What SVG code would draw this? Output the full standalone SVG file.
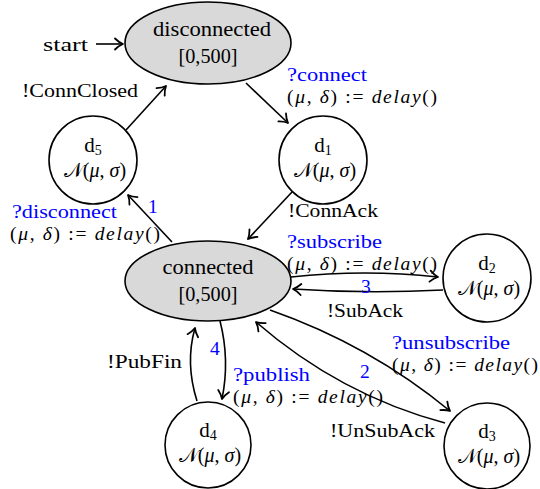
<svg xmlns="http://www.w3.org/2000/svg" width="540" height="489" viewBox="0 0 540 489">
<defs>
<marker id="ah" viewBox="-10 -7 12 14" markerWidth="12" markerHeight="14" refX="0" refY="0" orient="auto" markerUnits="userSpaceOnUse">
<path d="M-8,-5.5 C-5,-2.5 -2,-0.8 0,0 C-2,0.8 -5,2.5 -8,5.5" fill="none" stroke="#000" stroke-width="1.8" stroke-linecap="round" stroke-linejoin="round"/>
</marker>
</defs>
<style>
text{font-size:19.5px;fill:#000}
.b{fill:#0000ff}
.i{font-style:italic}
.m{text-anchor:middle}
.sub{font-size:14px}
.n{font-size:20px}
.nd{font-size:21px}
.st{fill:#d9d9d9;stroke:#000;stroke-width:1.6}
.c{fill:#fff;stroke:#000;stroke-width:1.6}
.e{fill:none;stroke:#000;stroke-width:1.6;marker-end:url(#ah)}
</style>
<g font-family="Liberation Serif, Times New Roman, serif">
<g id="connectors">
<path class="e" d="M96,44 L123,44"/>
<path class="e" d="M246,83 L288,123"/>
<path class="e" d="M126,130 L166,86"/>
<path class="e" d="M292,192 L248,239"/>
<path class="e" d="M172,242 L128,195"/>
<path class="e" d="M291,277 Q365,269 438,277"/>
<path class="e" d="M443,290 Q367,294 293,289"/>
<path class="e" d="M270,310 Q370,345 450,411"/>
<path class="e" d="M445,423 Q340,395 256,322"/>
<path class="e" d="M220,321 Q230,360 222,399"/>
<path class="e" d="M197,401 Q185,363 195,328"/>
</g>

<g id="labels">
<text x="43" y="51" textLength="45" lengthAdjust="spacingAndGlyphs">start</text>
<text x="287" y="81" class="b" textLength="80" lengthAdjust="spacingAndGlyphs">?connect</text>
<text x="287" y="103" textLength="150">(<tspan class="i">μ</tspan>, <tspan class="i">δ</tspan>) := <tspan class="i">delay</tspan>()</text>
<text x="22" y="97" textLength="116" lengthAdjust="spacingAndGlyphs">!ConnClosed</text>
<text x="288" y="217" textLength="90" lengthAdjust="spacingAndGlyphs">!ConnAck</text>
<text x="12" y="218" class="b" textLength="105" lengthAdjust="spacingAndGlyphs">?disconnect</text>
<text x="10" y="240" textLength="150">(<tspan class="i">μ</tspan>, <tspan class="i">δ</tspan>) := <tspan class="i">delay</tspan>()</text>
<text x="148" y="213" class="b">1</text>
<text x="287" y="248" class="b" textLength="95" lengthAdjust="spacingAndGlyphs">?subscribe</text>
<text x="287" y="270" textLength="150">(<tspan class="i">μ</tspan>, <tspan class="i">δ</tspan>) := <tspan class="i">delay</tspan>()</text>
<text x="361" y="293" class="b">3</text>
<text x="327" y="317" textLength="76" lengthAdjust="spacingAndGlyphs">!SubAck</text>
<text x="392" y="349" class="b" textLength="118" lengthAdjust="spacingAndGlyphs">?unsubscribe</text>
<text x="392" y="371" textLength="146">(<tspan class="i">μ</tspan>, <tspan class="i">δ</tspan>) := <tspan class="i">delay</tspan>()</text>
<text x="360" y="378" class="b">2</text>
<text x="330" y="437" textLength="105" lengthAdjust="spacingAndGlyphs">!UnSubAck</text>
<text x="210" y="355" class="b">4</text>
<text x="233" y="381" class="b" textLength="77" lengthAdjust="spacingAndGlyphs">?publish</text>
<text x="233" y="403" textLength="150">(<tspan class="i">μ</tspan>, <tspan class="i">δ</tspan>) := <tspan class="i">delay</tspan>()</text>
<text x="107" y="368" textLength="75" lengthAdjust="spacingAndGlyphs">!PubFin</text>
</g>

<g id="disconnected">
<ellipse class="st" cx="208" cy="43" rx="83" ry="41"/>
<text x="212" y="36" class="m nd" textLength="118" lengthAdjust="spacingAndGlyphs">disconnected</text>
<text x="208" y="63" class="m nd" textLength="59" lengthAdjust="spacingAndGlyphs">[0,500]</text>
</g>

<g id="connected">
<ellipse class="st" cx="208" cy="281" rx="83" ry="40"/>
<text x="208" y="274" class="m nd" textLength="91" lengthAdjust="spacingAndGlyphs">connected</text>
<text x="208" y="301" class="m nd" textLength="59" lengthAdjust="spacingAndGlyphs">[0,500]</text>
</g>

<g id="d5">
<circle class="c" cx="93" cy="160" r="44"/>
<text x="93" y="152" class="m nd">d<tspan class="sub" dy="3">5</tspan></text>
<text x="95" y="177" class="m n">𝒩(<tspan class="i">μ</tspan>, <tspan class="i">σ</tspan>)</text>
</g>

<g id="d1">
<circle class="c" cx="323" cy="160" r="44"/>
<text x="323" y="152" class="m nd">d<tspan class="sub" dy="3">1</tspan></text>
<text x="325" y="177" class="m n">𝒩(<tspan class="i">μ</tspan>, <tspan class="i">σ</tspan>)</text>
</g>

<g id="d2">
<circle class="c" cx="487" cy="278" r="44"/>
<text x="487" y="270" class="m nd">d<tspan class="sub" dy="3">2</tspan></text>
<text x="489" y="295" class="m n">𝒩(<tspan class="i">μ</tspan>, <tspan class="i">σ</tspan>)</text>
</g>

<g id="d3">
<circle class="c" cx="487" cy="446" r="43"/>
<text x="487" y="438" class="m nd">d<tspan class="sub" dy="3">3</tspan></text>
<text x="489" y="463" class="m n">𝒩(<tspan class="i">μ</tspan>, <tspan class="i">σ</tspan>)</text>
</g>

<g id="d4">
<circle class="c" cx="208" cy="445" r="43"/>
<text x="208" y="437" class="m nd">d<tspan class="sub" dy="3">4</tspan></text>
<text x="210" y="462" class="m n">𝒩(<tspan class="i">μ</tspan>, <tspan class="i">σ</tspan>)</text>
</g>
</g>
</svg>
